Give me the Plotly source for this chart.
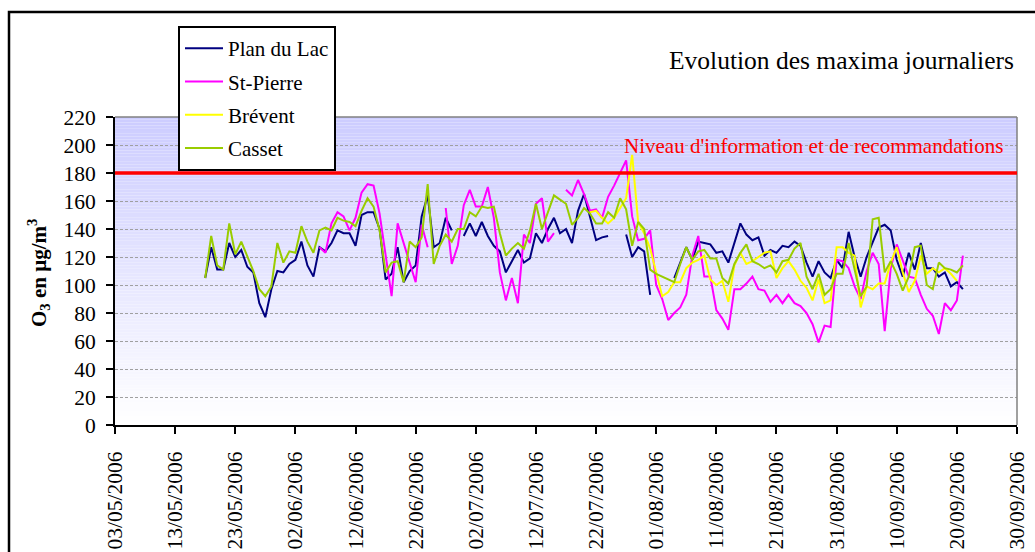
import pandas as pd
import plotly.graph_objects as go

# Daily ozone maxima (µg/m3), one value per day from each series' start date; None = no data
plan_du_lac_start = "2006-05-18"
plan_du_lac = [
    105, 127, 111, 111, 130, 120, 125, 113, 109, 87,
    77, 97, 110, 109, 115, 118, 131, 114, 106, 127,
    124, 130, 139, 137, 137, 128, 150, 152, 152, 140,
    104, 108, 127, 102, 110, 114, 149, 164, 127, 130,
    148, 139, None, 135, 144, 135, 145, 135, 128, 124,
    109, 117, 125, 116, 119, 137, 130, 140, 148, 137,
    140, 130, 153, 165, 148, 132, 134, 135, None, None,
    136, 120, 127, 124, 93, None, None, None, 105, 116,
    127, 118, 131, 130, 129, 123, 124, 116, 130, 144,
    136, 132, 134, 121, 125, 123, 128, 127, 131, 128,
    116, 106, 117, 109, 105, 118, 112, 138, 120, 106,
    120, 130, 141, 143, 139, 118, 106, 123, 111, 130,
    112, 112, 106, 109, 99, 102, 97,
]

st_pierre_start = "2006-06-06"
st_pierre = [
    127, 123, 144, 152, 149, 139, 148, 166, 172, 171,
    151, 121, 92, 144, 130, 116, 102, 143, 127, None,
    None, 155, 115, 128, 157, 168, 156, 156, 170, 148,
    109, 89, 105, 87, 136, 130, 158, 162, 131, 137,
    None, 168, 164, 175, 165, 153, 154, 148, 163, 171,
    180, 189, 149, 132, 133, 139, 100, 90, 75, 80,
    84, 93, 121, 135, 106, 106, 82, 76, 68, 97,
    97, 101, 106, 97, 96, 88, 93, 87, 93, 87,
    85, 80, 72, 59, 71, 70, 118, 117, 112, 99,
    90, 110, 123, 115, 67, 112, 129, 118, 106, 105,
    93, 83, 78, 65, 87, 82, 89, 121,
]

brevent_start = "2006-07-21"
brevent = [
    152, 153, 148, 144, 148, 155, 162, 193, 145, 137,
    126, 109, 92, 95, 102, 102, 112, 116, 118, 121,
    104, 100, 103, 88, 114, 123, 115, 117, 120, 123,
    124, 105, 112, 117, 111, 103, 98, 89, 104, 87,
    89, 127, 127, 123, 121, 84, 99, 97, 101, 101,
    116, 127, 109, 95, 103, 121, 108, 112, 109, 112,
    108, 103,
]

casset_start = "2006-05-18"
casset = [
    105, 135, 114, 111, 144, 122, 131, 121, 110, 97,
    92, 99, 130, 116, 124, 123, 142, 131, 123, 139,
    141, 139, 148, 146, 145, 142, 153, 162, 156, 139,
    109, 116, 117, 102, 131, 127, 134, 172, 115, 128,
    136, 131, 140, 140, 152, 149, 156, 155, 156, 137,
    121, 126, 130, 126, 139, 158, 140, 152, 164, 161,
    158, 143, 148, 155, 151, 144, 144, 152, 148, 162,
    154, 128, 145, 140, 111, 108, 106, 104, 102, 115,
    127, 118, 124, 125, 119, 119, 105, 101, 115, 123,
    129, 117, 115, 112, 114, 109, 117, 118, 126, 130,
    106, 97, 108, 93, 97, 108, 108, 130, 110, 92,
    99, 147, 148, 109, 117, 108, 96, 106, 127, 128,
    100, 97, 116, 112, 111, 109, 114,
]

series = [
    ("Plan du Lac", plan_du_lac_start, plan_du_lac, "#000080"),
    ("St-Pierre", st_pierre_start, st_pierre, "#FF00FF"),
    ("Brévent", brevent_start, brevent, "#FFFF00"),
    ("Casset", casset_start, casset, "#99CC00"),
]

info_threshold = 180
y_max = 220
x_range = ["2006-05-03", "2006-09-30"]

FONT = "Liberation Serif, Times New Roman, serif"
W, H = 1035, 552
ML, MR, MT, MB = 115, 18, 117, 127
PW, PH = W - ML - MR, H - MT - MB


def px_x(px):
    return (px - ML) / PW


def px_y(py):
    return (H - MB - py) / PH


fig = go.Figure()
for name, start, values, color in series:
    dates = pd.date_range(start, periods=len(values), freq="D")
    fig.add_trace(go.Scatter(
        x=dates, y=values, mode="lines", name=name,
        line=dict(color=color, width=2),
        legendgroup=name, connectgaps=False,
    ))

shapes = []
# vertical gradient of the plot area: lavender at the top fading to white
n_bands = 110
top_rgb = (204, 204, 255)
bot_rgb = (255, 255, 255)
for i in range(n_bands):
    t = (i + 0.5) / n_bands
    r, g, b = (round(bot_rgb[k] + (top_rgb[k] - bot_rgb[k]) * t) for k in range(3))
    shapes.append(dict(
        type="rect", xref="paper", yref="y", x0=0, x1=1,
        y0=y_max * i / n_bands, y1=y_max * (i + 1) / n_bands,
        fillcolor=f"rgb({r},{g},{b})", line=dict(width=0), layer="below",
    ))
# plot-area border (top and right)
shapes.append(dict(type="line", xref="paper", yref="paper", x0=0, x1=1, y0=1, y1=1,
                   line=dict(color="#808080", width=1.5)))
shapes.append(dict(type="line", xref="paper", yref="paper", x0=1, x1=1, y0=0, y1=1,
                   line=dict(color="#808080", width=1.5)))
# information threshold
shapes.append(dict(type="line", xref="paper", yref="y", x0=0, x1=1,
                   y0=info_threshold, y1=info_threshold,
                   line=dict(color="#FF0000", width=3.5)))
# outer chart frame
shapes.append(dict(type="rect", xref="paper", yref="paper",
                   x0=px_x(9), x1=px_x(1045), y0=px_y(12), y1=px_y(570),
                   line=dict(color="black", width=2.5), fillcolor="rgba(0,0,0,0)"))

annotations = [
    dict(text="Evolution des maxima journaliers", xref="paper", yref="paper",
         x=px_x(1016), y=px_y(61), xanchor="right", yanchor="middle",
         showarrow=False, font=dict(family=FONT, size=25.5, color="black")),
    dict(text="Niveau d'information et de recommandations", xref="paper", yref="paper",
         x=px_x(1005), y=px_y(146), xanchor="right", yanchor="middle",
         showarrow=False, font=dict(family=FONT, size=21, color="#FF0000")),
    dict(text="<b>O<sub>3</sub> en µg/m<sup>3</sup></b>", xref="paper", yref="paper",
         x=px_x(38), y=px_y(273), xanchor="center", yanchor="middle", textangle=-90,
         showarrow=False, font=dict(family=FONT, size=21, color="black")),
]

fig.update_layout(
    width=W, height=H,
    margin=dict(l=ML, r=MR, t=MT, b=MB, autoexpand=False),
    paper_bgcolor="white", plot_bgcolor="rgba(0,0,0,0)",
    font=dict(family=FONT, color="black"),
    shapes=shapes, annotations=annotations,
    showlegend=True,
    legend=dict(
        x=px_x(178), y=px_y(26), xanchor="left", yanchor="top",
        bgcolor="white", bordercolor="black", borderwidth=2,
        font=dict(family=FONT, size=21, color="black"),
        tracegroupgap=3, traceorder="grouped", itemwidth=38,
    ),
    xaxis=dict(
        type="date", range=x_range, tick0=x_range[0], dtick=10 * 86400000,
        tickformat="%d/%m/%Y", tickangle=-90, ticks="outside", ticklen=7,
        tickcolor="black", tickwidth=1.5, showline=True, linecolor="black", linewidth=2,
        showgrid=False, zeroline=False,
        tickfont=dict(family=FONT, size=21.5, color="black"),
        ticklabelstandoff=9,
    ),
    yaxis=dict(
        range=[0, y_max], dtick=20, tick0=0, ticks="outside", ticklen=7,
        tickcolor="black", tickwidth=1.5, showline=True, linecolor="black", linewidth=2,
        showgrid=True, gridcolor="#a0a0a0", gridwidth=1, griddash="3px,2px",
        zeroline=False,
        tickfont=dict(family=FONT, size=21.5, color="black"),
        ticklabelstandoff=6,
    ),
)

fig.write_html("out.html")
